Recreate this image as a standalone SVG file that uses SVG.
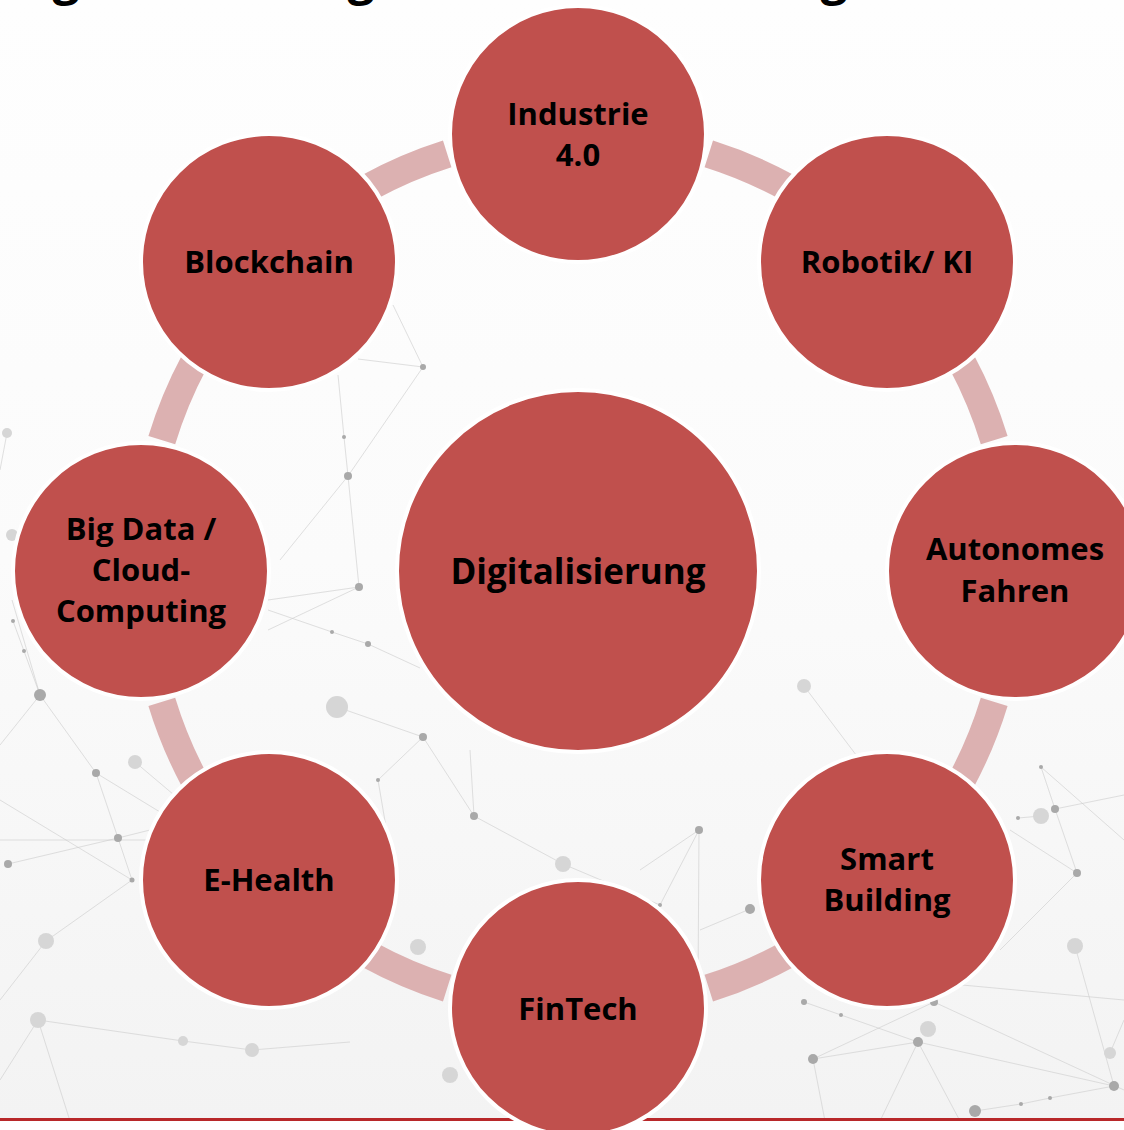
<svg xmlns="http://www.w3.org/2000/svg" width="1124" height="1130" viewBox="0 0 1124 1130">
  <defs>
    <linearGradient id="bg" x1="0" y1="0" x2="0" y2="1">
      <stop offset="0" stop-color="#fefefe"/>
      <stop offset="0.5" stop-color="#fbfbfb"/>
      <stop offset="1" stop-color="#f3f3f3"/>
    </linearGradient>
    <style>
      .net line { stroke: #cdcdcd; stroke-width: 1; opacity: 0.6; }
      .dot { fill: #a9a9a9; }
      .dotl { fill: #d6d6d6; }
      .link { fill: none; stroke: #dcb1b1; stroke-width: 28; stroke-linecap: butt; }
      .node { fill: #c0504d; stroke: #ffffff; stroke-width: 4; }
      .lbl { font-family: "Open Sans", "Liberation Sans", sans-serif; font-weight: bold; font-size: 31px; fill: #000000; text-anchor: middle; }
      .hub { font-size: 35px; }
      .title { font-family: "Open Sans", "Liberation Sans", sans-serif; font-weight: bold; font-size: 48px; fill: #000000; text-anchor: middle; }
    </style>
  </defs>

  <!-- backdrop -->
  <rect x="0" y="0" width="1124" height="1121" fill="url(#bg)"/>
  <rect x="0" y="1121" width="1124" height="9" fill="#ffffff"/>

  <!-- faint network texture -->
  <g class="net">
    <line x1="7" y1="433" x2="0" y2="470"/>
    <line x1="40" y1="695" x2="0" y2="745"/>
    <line x1="40" y1="695" x2="12" y2="600"/>
    <line x1="40" y1="695" x2="96" y2="773"/>
    <line x1="13" y1="621" x2="24" y2="651"/>
    <line x1="24" y1="651" x2="40" y2="695"/>
    <line x1="96" y1="773" x2="118" y2="838"/>
    <line x1="118" y1="838" x2="132" y2="880"/>
    <line x1="96" y1="773" x2="160" y2="812"/>
    <line x1="8" y1="864" x2="118" y2="838"/>
    <line x1="118" y1="838" x2="150" y2="830"/>
    <line x1="0" y1="800" x2="132" y2="880"/>
    <line x1="0" y1="840" x2="150" y2="840"/>
    <line x1="46" y1="941" x2="0" y2="1000"/>
    <line x1="46" y1="941" x2="132" y2="880"/>
    <line x1="38" y1="1020" x2="0" y2="1080"/>
    <line x1="38" y1="1020" x2="183" y2="1041"/>
    <line x1="183" y1="1041" x2="252" y2="1050"/>
    <line x1="252" y1="1050" x2="350" y2="1042"/>
    <line x1="38" y1="1020" x2="70" y2="1121"/>
    <line x1="135" y1="762" x2="180" y2="800"/>

    <line x1="393" y1="305" x2="423" y2="367"/>
    <line x1="358" y1="359" x2="423" y2="367"/>
    <line x1="338" y1="375" x2="344" y2="437"/>
    <line x1="344" y1="437" x2="348" y2="476"/>
    <line x1="348" y1="476" x2="359" y2="587"/>
    <line x1="423" y1="367" x2="348" y2="476"/>
    <line x1="348" y1="476" x2="280" y2="560"/>
    <line x1="359" y1="587" x2="268" y2="600"/>
    <line x1="359" y1="587" x2="268" y2="630"/>
    <line x1="332" y1="632" x2="368" y2="644"/>
    <line x1="368" y1="644" x2="420" y2="668"/>
    <line x1="268" y1="610" x2="332" y2="632"/>
    <line x1="423" y1="737" x2="474" y2="816"/>
    <line x1="423" y1="737" x2="378" y2="780"/>
    <line x1="474" y1="816" x2="563" y2="864"/>
    <line x1="474" y1="816" x2="470" y2="750"/>
    <line x1="337" y1="707" x2="423" y2="737"/>
    <line x1="378" y1="780" x2="395" y2="880"/>
    <line x1="563" y1="864" x2="660" y2="905"/>

    <line x1="804" y1="686" x2="875" y2="780"/>
    <line x1="699" y1="830" x2="660" y2="905"/>
    <line x1="699" y1="830" x2="698" y2="990"/>
    <line x1="699" y1="830" x2="640" y2="870"/>
    <line x1="750" y1="909" x2="700" y2="930"/>
    <line x1="1041" y1="767" x2="1055" y2="809"/>
    <line x1="1055" y1="809" x2="1077" y2="873"/>
    <line x1="1041" y1="767" x2="1124" y2="840"/>
    <line x1="1055" y1="809" x2="1124" y2="795"/>
    <line x1="1018" y1="818" x2="1041" y2="816"/>
    <line x1="1077" y1="873" x2="1000" y2="950"/>
    <line x1="1010" y1="830" x2="1077" y2="873"/>
    <line x1="1075" y1="946" x2="1114" y2="1086"/>
    <line x1="918" y1="1042" x2="813" y2="1059"/>
    <line x1="918" y1="1042" x2="1114" y2="1086"/>
    <line x1="918" y1="1042" x2="880" y2="1121"/>
    <line x1="813" y1="1059" x2="825" y2="1121"/>
    <line x1="918" y1="1042" x2="960" y2="1121"/>
    <line x1="804" y1="1002" x2="841" y2="1015"/>
    <line x1="841" y1="1015" x2="918" y2="1042"/>
    <line x1="934" y1="1002" x2="1124" y2="1090"/>
    <line x1="934" y1="1002" x2="813" y2="1059"/>
    <line x1="975" y1="1111" x2="1021" y2="1104"/>
    <line x1="1021" y1="1104" x2="1050" y2="1098"/>
    <line x1="1050" y1="1098" x2="1114" y2="1086"/>
    <line x1="1110" y1="1053" x2="1124" y2="1020"/>
    <line x1="800" y1="970" x2="1124" y2="1000"/>
  </g>
  <g>
    <circle class="dotl" cx="7" cy="433" r="5"/>
    <circle class="dotl" cx="12" cy="535" r="6"/>
    <circle class="dot" cx="13" cy="621" r="2"/>
    <circle class="dot" cx="24" cy="651" r="2"/>
    <circle class="dot" cx="40" cy="695" r="6"/>
    <circle class="dot" cx="96" cy="773" r="4"/>
    <circle class="dotl" cx="135" cy="762" r="7"/>
    <circle class="dot" cx="118" cy="838" r="4"/>
    <circle class="dot" cx="8" cy="864" r="4"/>
    <circle class="dot" cx="132" cy="880" r="2.5"/>
    <circle class="dotl" cx="46" cy="941" r="8"/>
    <circle class="dotl" cx="38" cy="1020" r="8"/>
    <circle class="dotl" cx="183" cy="1041" r="5"/>
    <circle class="dotl" cx="252" cy="1050" r="7"/>
    <circle class="dot" cx="423" cy="367" r="3"/>
    <circle class="dot" cx="344" cy="437" r="2"/>
    <circle class="dot" cx="348" cy="476" r="4"/>
    <circle class="dot" cx="359" cy="587" r="4"/>
    <circle class="dot" cx="332" cy="632" r="2"/>
    <circle class="dot" cx="368" cy="644" r="3"/>
    <circle class="dotl" cx="337" cy="707" r="11"/>
    <circle class="dot" cx="423" cy="737" r="4"/>
    <circle class="dot" cx="378" cy="780" r="2"/>
    <circle class="dot" cx="474" cy="816" r="4"/>
    <circle class="dotl" cx="563" cy="864" r="8"/>
    <circle class="dotl" cx="418" cy="947" r="8"/>
    <circle class="dotl" cx="450" cy="1075" r="8"/>
    <circle class="dotl" cx="804" cy="686" r="7"/>
    <circle class="dot" cx="699" cy="830" r="4"/>
    <circle class="dot" cx="750" cy="909" r="5"/>
    <circle class="dot" cx="1041" cy="767" r="2"/>
    <circle class="dot" cx="1055" cy="809" r="4"/>
    <circle class="dotl" cx="1041" cy="816" r="8"/>
    <circle class="dot" cx="1018" cy="818" r="2"/>
    <circle class="dot" cx="1077" cy="873" r="4"/>
    <circle class="dotl" cx="1075" cy="946" r="8"/>
    <circle class="dot" cx="804" cy="1002" r="3"/>
    <circle class="dot" cx="841" cy="1015" r="2"/>
    <circle class="dotl" cx="928" cy="1029" r="8"/>
    <circle class="dot" cx="918" cy="1042" r="5"/>
    <circle class="dot" cx="813" cy="1059" r="5"/>
    <circle class="dotl" cx="1110" cy="1053" r="6"/>
    <circle class="dot" cx="1114" cy="1086" r="5"/>
    <circle class="dot" cx="975" cy="1111" r="6"/>
    <circle class="dot" cx="1021" cy="1104" r="2"/>
    <circle class="dot" cx="1050" cy="1098" r="2"/>
    <circle class="dot" cx="934" cy="1002" r="4"/>
    <circle class="dot" cx="660" cy="905" r="2"/>
  </g>

  <!-- footer rule -->
  <rect x="0" y="1118" width="1124" height="3" fill="#b8282a"/>

  <!-- title, only descenders of its lower line stay in view -->
  <g id="title">
    <text class="title" x="66" y="-6">g</text>
    <text class="title" x="361" y="-6">g</text>
    <text class="title" x="834" y="-6">g</text>
  </g>

  <!-- ring segments between the satellites (R = 437 about 578,571) -->
  <g id="connectors">
    <path class="link" d="M 708.8 153.9 A 437 437 0 0 1 787.1 187.3"/>
    <path class="link" d="M 961.7 361.9 A 437 437 0 0 1 994.2 440.2"/>
    <path class="link" d="M 994.2 701.8 A 437 437 0 0 1 961.7 780.1"/>
    <path class="link" d="M 787.1 954.7 A 437 437 0 0 1 708.8 988.1"/>
    <path class="link" d="M 447.2 988.1 A 437 437 0 0 1 368.9 954.7"/>
    <path class="link" d="M 194.3 780.1 A 437 437 0 0 1 161.8 701.8"/>
    <path class="link" d="M 161.8 440.2 A 437 437 0 0 1 194.3 361.9"/>
    <path class="link" d="M 368.9 187.3 A 437 437 0 0 1 447.2 153.9"/>
  </g>

  <g id="hub">
    <circle class="node" cx="578" cy="571" r="181"/>
    <text class="lbl hub" x="578" y="584">Digitalisierung</text>
  </g>

  <g id="industrie">
    <circle class="node" cx="578" cy="134" r="128"/>
    <text class="lbl" x="578" y="125">Industrie</text>
    <text class="lbl" x="578" y="166">4.0</text>
  </g>

  <g id="robotik">
    <circle class="node" cx="887" cy="262" r="128"/>
    <text class="lbl" x="887" y="273">Robotik/ KI</text>
  </g>

  <g id="autonomes">
    <circle class="node" cx="1015" cy="571" r="128"/>
    <text class="lbl" x="1015" y="560">Autonomes</text>
    <text class="lbl" x="1015" y="602">Fahren</text>
  </g>

  <g id="smart-building">
    <circle class="node" cx="887" cy="880" r="128"/>
    <text class="lbl" x="887" y="870">Smart</text>
    <text class="lbl" x="887" y="911">Building</text>
  </g>

  <g id="fintech">
    <circle class="node" cx="578" cy="1008" r="128"/>
    <text class="lbl" x="578" y="1020">FinTech</text>
  </g>

  <g id="ehealth">
    <circle class="node" cx="269" cy="880" r="128"/>
    <text class="lbl" x="269" y="891">E-Health</text>
  </g>

  <g id="bigdata">
    <circle class="node" cx="141" cy="571" r="128"/>
    <text class="lbl" x="141" y="540">Big Data /</text>
    <text class="lbl" x="141" y="581">Cloud-</text>
    <text class="lbl" x="141" y="622">Computing</text>
  </g>

  <g id="blockchain">
    <circle class="node" cx="269" cy="262" r="128"/>
    <text class="lbl" x="269" y="273">Blockchain</text>
  </g>
</svg>
